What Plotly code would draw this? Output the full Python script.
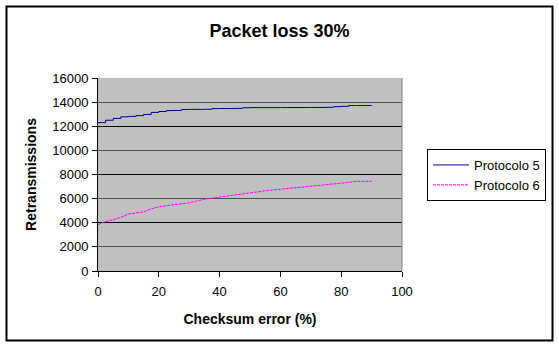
import plotly.graph_objects as go

# Checksum error (%) sample points
x_p5 = [0, 2.5, 5, 7.5, 10, 12.5, 15, 17.5, 20, 22.5, 25, 27.5, 30, 35, 37.5, 40, 45, 47.5, 50, 60, 70, 75, 77.5, 80, 82.5, 85, 90]
y_p5 = [12300, 12500, 12650, 12780, 12820, 12880, 12980, 13150, 13220, 13300, 13310, 13390, 13400, 13410, 13460, 13470, 13480, 13530, 13540, 13550, 13560, 13570, 13620, 13650, 13720, 13720, 13720]

x_p6 = [0, 2.5, 5, 7.5, 10, 12.5, 15, 17.5, 20, 25, 30, 35, 40, 45, 50, 55, 60, 65, 70, 75, 80, 85, 90]
y_p6 = [3850, 4100, 4250, 4450, 4720, 4830, 4900, 5150, 5320, 5500, 5650, 5950, 6120, 6350, 6520, 6650, 6780, 6900, 7030, 7120, 7280, 7430, 7440]

x_ticks = [0, 20, 40, 60, 80, 100]
y_ticks = [0, 2000, 4000, 6000, 8000, 10000, 12000, 14000, 16000]
y_tick_labels = [str(v) for v in y_ticks]

FONT = "Liberation Sans, Arial, sans-serif"

fig = go.Figure()
fig.add_trace(go.Scatter(x=x_p5, y=y_p5, mode="lines", name="Protocolo 5",
                         line=dict(color="#000080", width=1, shape="hv")))
fig.add_trace(go.Scatter(x=x_p6, y=y_p6, mode="lines", name="Protocolo 6",
                         line=dict(color="#FF00FF", width=1, dash="3px,1px")))
# overlay axis for the darker gridlines every 4000
fig.add_trace(go.Scatter(x=[None], y=[None], yaxis="y2", showlegend=False, hoverinfo="skip"))

fig.update_layout(
    width=559, height=345,
    margin=dict(l=98, r=157, t=78, b=74),
    paper_bgcolor="white",
    plot_bgcolor="#C0C0C0",
    font=dict(family=FONT, color="black", size=13),
    title=dict(text="<b>Packet loss 30%</b>", x=0.5, xref="container", xanchor="center",
               y=1 - 31 / 345, yanchor="middle", font=dict(size=18, family=FONT)),
    xaxis=dict(range=[0, 100], tickvals=x_ticks, ticks="outside", ticklen=5, tickcolor="black",
               showline=True, linecolor="black", linewidth=1, showgrid=False, zeroline=False,
               mirror=False, tickfont=dict(size=13), ticklabelstandoff=3,
               title=dict(text="<b>Checksum error (%)</b>", font=dict(size=14), standoff=16)),
    yaxis=dict(range=[0, 16000], tickvals=y_ticks, ticktext=y_tick_labels, ticks="outside",
               ticklen=5, tickcolor="black",
               showline=True, linecolor="black", linewidth=1, showgrid=True, gridcolor="#505050",
               gridwidth=1, zeroline=False, tickfont=dict(size=13), ticklabelstandoff=1,
               title=dict(text="<b>Retransmissions</b>", font=dict(size=14), standoff=12)),
    yaxis2=dict(range=[0, 16000], overlaying="y", side="left", tickvals=[4000, 8000, 12000],
                showticklabels=False, ticks="", showgrid=True, gridcolor="black", gridwidth=1,
                zeroline=False, showline=False),
    legend=dict(x=427 / 559, xref="container", y=1 - 149 / 345, yref="container",
                xanchor="left", yanchor="top",
                bordercolor="black", borderwidth=1, bgcolor="white",
                font=dict(size=13, family=FONT), tracegroupgap=0, itemwidth=36),
    shapes=[
        dict(type="rect", xref="paper", yref="paper",
             x0=(6.5 - 98) / 304, x1=(552.5 - 98) / 304,
             y0=(271 - 340.5) / 193, y1=(271 - 6.5) / 193,
             line=dict(color="black", width=2), fillcolor="rgba(0,0,0,0)", layer="below"),
        dict(type="line", xref="paper", yref="paper", x0=1, x1=1, y0=0, y1=1,
             line=dict(color="#808080", width=1)),
    ],
)

fig.write_html("out.html")
